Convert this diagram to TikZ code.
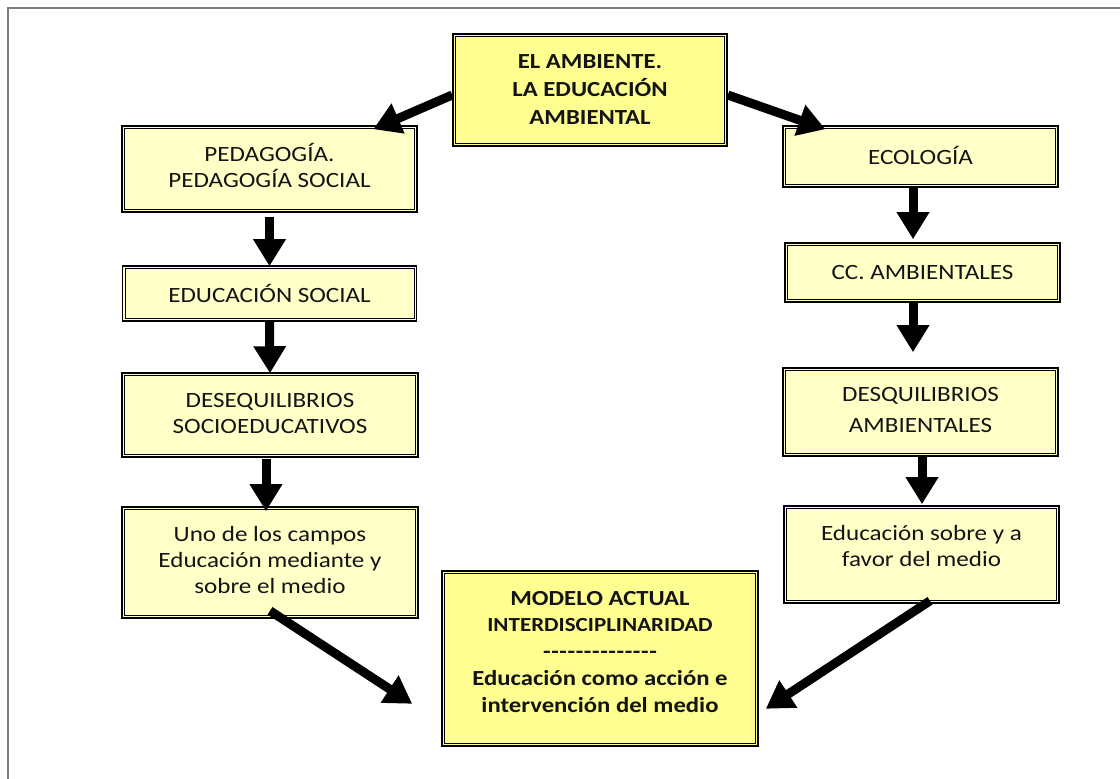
\documentclass[tikz,border=0pt]{standalone}
\usepackage{fontspec}
\setmainfont{Carlito}[FakeStretch=1.15]
\usetikzlibrary{arrows.meta,calc}
\definecolor{paleY}{RGB}{255,255,200}
\definecolor{strongY}{RGB}{255,255,145}
\definecolor{frameG}{RGB}{125,125,125}
\tikzset{
  box/.style={draw=black, line width=1.6pt, fill=paleY, align=center, inner sep=0pt,
    font=\fontsize{21.8}{26}\selectfont, text=black!92},
  hbox/.style={box, fill=strongY, font=\bfseries\fontsize{21.5}{28}\selectfont},
  innerframe/.style={draw=black, line width=0.7pt},
  arr/.style={line width=9pt, -{Triangle[width=31pt,length=27pt]}}
}
\newcommand{\innerbox}[1]{\draw[innerframe] ([shift={(3.2pt,-3.2pt)}]#1.north west) rectangle ([shift={(-3.2pt,3.2pt)}]#1.south east);}
\newcommand{\hy}{-\kern0.6pt}
\begin{document}
\begin{tikzpicture}[x=1pt,y=-1pt]
\useasboundingbox (0,0) rectangle (1120,779);
\fill[white] (0,0) rectangle (1120,779);
% frame
\coordinate (fA) at (7,8);
\coordinate (fB) at (1120,8);
\coordinate (fC) at (8,779);
\draw[frameG, line width=2pt] (fB) -- (fA);
\draw[frameG, line width=2pt] (8,7) -- (fC);

% nodes
\node[hbox, minimum width=274pt, minimum height=112pt] (top) at (590,90) {EL AMBIENTE.\\LA EDUCACIÓN\\AMBIENTAL};
\node[box, minimum width=295pt, minimum height=86pt] (ped) at (269.5,169) {\begin{tabular}{@{}c@{}}PEDAGOGÍA.\\PEDAGOGÍA SOCIAL\end{tabular}};
\node[box, minimum width=294pt, minimum height=55pt] (edu) at (269.5,293.5) {EDUCACIÓN SOCIAL};
\node[box, minimum width=296pt, minimum height=84pt] (des) at (270,415) {\begin{tabular}{@{}c@{}}DESEQUILIBRIOS\\SOCIOEDUCATIVOS\end{tabular}};
\node[box, minimum width=296pt, minimum height=111pt] (uno) at (270,562.5) {\begin{tabular}{@{}c@{}}Uno de los campos\\Educación mediante y\\sobre el medio\end{tabular}};
\node[box, minimum width=275pt, minimum height=61pt] (eco) at (920.5,156.5) {\raisebox{1.5pt}[\height][\depth]{ECOLOGÍA}};
\node[box, minimum width=275pt, minimum height=59pt] (cca) at (922.5,272.5) {CC. AMBIENTALES};
\node[box, minimum width=275pt, minimum height=88pt] (dam) at (920.5,412) {\begin{tabular}{@{}c@{}}DESQUILIBRIOS\\[5pt]AMBIENTALES\end{tabular}};
\node[box, minimum width=275pt, minimum height=97pt] (efa) at (921.5,554.5) {\raisebox{6pt}[\height][\depth]{\begin{tabular}{@{}c@{}}Educación sobre y a\\favor del medio\end{tabular}}};
\node[box, fill=strongY, minimum width=316pt, minimum height=175pt, font=\bfseries\fontsize{21.5}{27}\selectfont] (mod) at (600,658.5)
  {\raisebox{5pt}[\height][\depth]{\begin{tabular}{@{}c@{}}MODELO ACTUAL\\[-1pt]{\fontsize{20}{27}\selectfont INTERDISCIPLINARIDAD}\\\hy\hy\hy\hy\hy\hy\hy\hy\hy\hy\hy\hy\hy-\\Educación como acción e\\intervención del medio\end{tabular}}};

\foreach \n in {top,ped,edu,des,uno,eco,cca,dam,efa,mod} {\innerbox{\n}}

% arrows
\draw[arr] ([yshift=-5pt]top.west) -- ($(ped.north west)!0.85!(ped.north east)+(0,4)$);
\draw[arr] ([yshift=-5pt]top.east) -- ($(eco.north west)!0.156!(eco.north east)+(0,4)$);
\draw[arr] ([yshift=-4pt]ped.south) -- ([yshift=-1pt]edu.north);
\draw[arr] (edu.south) -- ([yshift=-1pt]des.north);
\draw[arr] ([xshift=-4pt,yshift=-1pt]des.south) -- ([xshift=-4pt,yshift=-5pt]uno.north);
\draw[arr] ([xshift=-7.5pt]eco.south) -- ([xshift=-9.5pt,yshift=3pt]cca.north);
\draw[arr] ([xshift=-9.5pt]cca.south) -- ([xshift=-7.5pt,yshift=15pt]dam.north);
\draw[arr] ([xshift=1.5pt]dam.south) -- ([xshift=0.5pt,yshift=1pt]efa.north);
\draw[arr] ([yshift=8pt]uno.south) -- ([xshift=-29pt,yshift=43pt]mod.south west);
\draw[arr] ([xshift=8.5pt,yshift=3pt]efa.south) -- ([xshift=7pt,yshift=38pt]mod.south east);
\end{tikzpicture}
\end{document}
